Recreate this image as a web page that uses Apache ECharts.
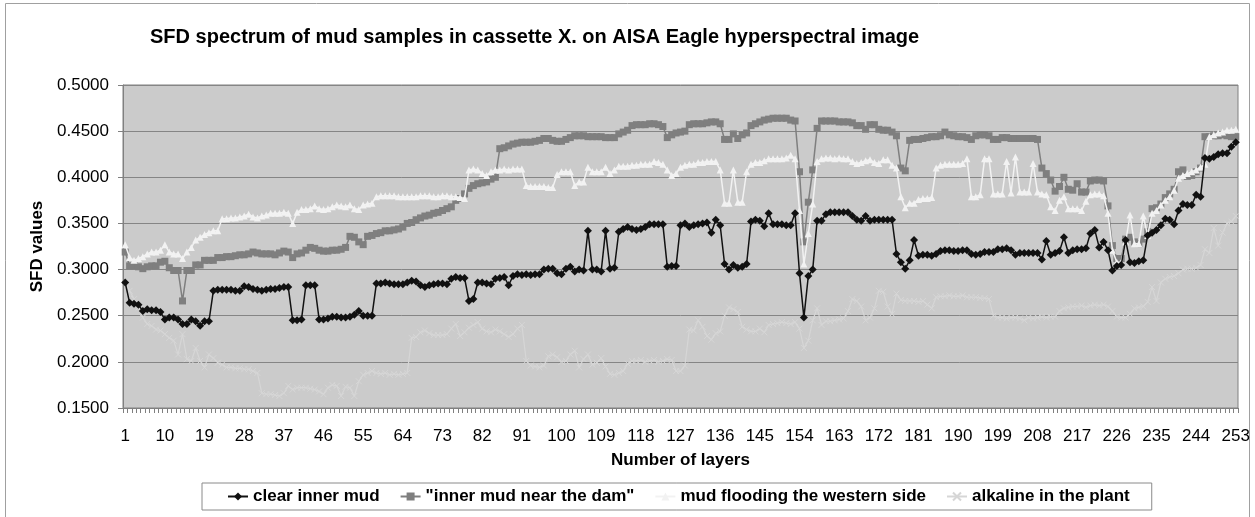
<!DOCTYPE html>
<html>
<head>
<meta charset="utf-8">
<script src="https://cdn.jsdelivr.net/npm/echarts@6/dist/echarts.min.js"></script>
<style>
html,body{margin:0;padding:0;background:#fff;}
#chart{width:1255px;height:517px;}
</style>
</head>
<body>
<div id="chart"></div>
<script>
// ---- data ----
var layerCount = 253;
var categories = [];
for (var k = 1; k <= layerCount; k++) categories.push(String(k));

var yTicks = [0.15, 0.20, 0.25, 0.30, 0.35, 0.40, 0.45, 0.50];

var seriesNames = ['clear inner mud', '"inner mud near the dam"', 'mud flooding the western side', 'alkaline in the plant'];

var clearInnerMud = [
0.286,0.264,0.263,0.262,0.255,0.257,0.256,0.256,0.254,0.246,
0.248,0.248,0.246,0.241,0.241,0.246,0.244,0.239,0.244,0.244,
0.277,0.278,0.278,0.278,0.278,0.277,0.277,0.282,0.281,0.279,
0.278,0.277,0.278,0.279,0.279,0.280,0.281,0.281,0.245,0.245,
0.246,0.283,0.283,0.283,0.246,0.246,0.247,0.249,0.249,0.248,
0.248,0.249,0.251,0.255,0.250,0.250,0.250,0.285,0.285,0.286,
0.285,0.284,0.284,0.284,0.286,0.288,0.287,0.283,0.281,0.283,
0.284,0.285,0.285,0.284,0.290,0.292,0.291,0.291,0.266,0.268,
0.286,0.286,0.285,0.284,0.290,0.291,0.292,0.283,0.293,0.295,
0.294,0.295,0.294,0.295,0.295,0.300,0.301,0.301,0.296,0.295,
0.301,0.303,0.298,0.300,0.299,0.342,0.300,0.300,0.298,0.342,
0.301,0.302,0.341,0.344,0.346,0.344,0.343,0.344,0.346,0.349,
0.349,0.349,0.349,0.303,0.304,0.304,0.348,0.350,0.346,0.348,
0.349,0.350,0.351,0.340,0.354,0.348,0.306,0.300,0.305,0.302,
0.303,0.306,0.352,0.354,0.353,0.347,0.361,0.349,0.349,0.349,
0.348,0.348,0.361,0.296,0.248,0.293,0.300,0.353,0.353,0.360,
0.362,0.362,0.362,0.362,0.362,0.358,0.354,0.353,0.358,0.353,
0.354,0.354,0.354,0.354,0.354,0.317,0.308,0.301,0.310,0.332,
0.315,0.316,0.316,0.315,0.317,0.320,0.321,0.321,0.320,0.320,
0.321,0.321,0.317,0.316,0.317,0.319,0.319,0.319,0.322,0.322,
0.323,0.321,0.316,0.318,0.318,0.318,0.318,0.318,0.311,0.331,
0.316,0.318,0.320,0.335,0.318,0.321,0.322,0.322,0.323,0.339,
0.343,0.324,0.330,0.321,0.299,0.304,0.305,0.332,0.308,0.307,
0.309,0.310,0.337,0.340,0.343,0.348,0.355,0.354,0.349,0.364,
0.371,0.370,0.370,0.381,0.379,0.421,0.420,0.422,0.425,0.426,
0.426,0.433,0.438
];

var innerMudNearDam = [
0.319,0.304,0.304,0.303,0.301,0.303,0.304,0.304,0.308,0.309,
0.302,0.299,0.299,0.266,0.299,0.299,0.305,0.305,0.310,0.310,
0.310,0.313,0.313,0.314,0.314,0.315,0.316,0.316,0.317,0.319,
0.318,0.317,0.317,0.317,0.316,0.318,0.320,0.319,0.313,0.317,
0.318,0.321,0.324,0.323,0.321,0.320,0.320,0.321,0.321,0.322,
0.324,0.336,0.335,0.330,0.327,0.336,0.337,0.339,0.340,0.342,
0.342,0.343,0.344,0.346,0.350,0.351,0.354,0.356,0.358,0.359,
0.361,0.362,0.364,0.366,0.368,0.375,0.377,0.382,0.388,0.391,
0.393,0.394,0.395,0.398,0.400,0.431,0.432,0.434,0.436,0.437,
0.438,0.438,0.438,0.439,0.440,0.442,0.442,0.440,0.439,0.439,
0.441,0.443,0.445,0.445,0.445,0.444,0.444,0.444,0.444,0.443,
0.443,0.443,0.447,0.449,0.451,0.456,0.457,0.457,0.457,0.458,
0.458,0.457,0.455,0.443,0.446,0.448,0.449,0.450,0.457,0.458,
0.458,0.458,0.459,0.460,0.460,0.458,0.441,0.441,0.447,0.442,
0.446,0.448,0.456,0.458,0.460,0.462,0.463,0.464,0.464,0.464,
0.464,0.462,0.461,0.406,0.330,0.373,0.408,0.453,0.461,0.461,
0.461,0.461,0.460,0.460,0.460,0.459,0.456,0.456,0.452,0.457,
0.457,0.452,0.451,0.451,0.449,0.445,0.410,0.407,0.440,0.441,
0.441,0.442,0.443,0.444,0.444,0.445,0.449,0.446,0.445,0.444,
0.444,0.443,0.441,0.445,0.446,0.446,0.445,0.441,0.441,0.443,
0.443,0.442,0.442,0.442,0.442,0.442,0.442,0.441,0.410,0.404,
0.397,0.385,0.390,0.400,0.387,0.386,0.393,0.384,0.384,0.396,
0.397,0.397,0.396,0.369,0.326,0.312,0.312,0.333,0.335,0.330,
0.328,0.333,0.341,0.366,0.367,0.371,0.378,0.382,0.387,0.406,
0.408,0.401,0.402,0.406,0.410,0.444,0.444,0.445,0.445,0.446,
0.445,0.444,0.444
];

var mudFloodingWest = [
0.327,0.313,0.310,0.312,0.314,0.317,0.319,0.319,0.321,0.327,
0.319,0.317,0.317,0.312,0.319,0.324,0.332,0.335,0.338,0.340,
0.342,0.342,0.355,0.355,0.356,0.356,0.357,0.358,0.360,0.357,
0.356,0.358,0.359,0.361,0.361,0.361,0.362,0.361,0.350,0.362,
0.365,0.365,0.366,0.369,0.366,0.365,0.366,0.368,0.370,0.369,
0.368,0.370,0.366,0.365,0.370,0.371,0.372,0.379,0.380,0.380,
0.380,0.380,0.379,0.379,0.379,0.379,0.379,0.380,0.380,0.380,
0.379,0.379,0.380,0.380,0.379,0.379,0.378,0.377,0.408,0.409,
0.408,0.404,0.402,0.406,0.408,0.408,0.409,0.408,0.409,0.409,
0.409,0.391,0.390,0.390,0.390,0.390,0.389,0.389,0.403,0.406,
0.406,0.406,0.391,0.395,0.395,0.411,0.406,0.406,0.406,0.411,
0.404,0.408,0.412,0.412,0.412,0.413,0.413,0.414,0.414,0.414,
0.417,0.416,0.414,0.408,0.402,0.404,0.411,0.413,0.414,0.414,
0.416,0.416,0.417,0.417,0.417,0.408,0.372,0.372,0.408,0.373,
0.373,0.406,0.414,0.416,0.416,0.418,0.420,0.420,0.420,0.420,
0.421,0.424,0.420,0.364,0.306,0.339,0.371,0.417,0.420,0.421,
0.421,0.420,0.421,0.420,0.420,0.417,0.415,0.416,0.418,0.419,
0.416,0.415,0.419,0.419,0.413,0.410,0.379,0.367,0.372,0.372,
0.376,0.377,0.377,0.378,0.410,0.413,0.414,0.414,0.414,0.414,
0.415,0.420,0.379,0.379,0.381,0.420,0.420,0.382,0.382,0.382,
0.417,0.383,0.422,0.384,0.384,0.384,0.415,0.384,0.382,0.381,
0.368,0.364,0.375,0.379,0.366,0.366,0.366,0.364,0.374,0.381,
0.382,0.382,0.380,0.361,0.321,0.308,0.308,0.330,0.359,0.328,
0.328,0.358,0.337,0.361,0.364,0.370,0.375,0.379,0.386,0.399,
0.402,0.404,0.406,0.408,0.411,0.414,0.444,0.446,0.448,0.449,
0.451,0.451,0.452
];

var alkalineInPlant = [
0.286,0.277,0.268,0.259,0.248,0.241,0.239,0.235,0.234,0.230,
0.226,0.223,0.208,0.230,0.203,0.201,0.215,0.201,0.194,0.208,
0.204,0.199,0.197,0.194,0.194,0.193,0.193,0.192,0.192,0.190,
0.188,0.166,0.165,0.165,0.164,0.163,0.166,0.174,0.170,0.172,
0.172,0.172,0.171,0.170,0.168,0.165,0.172,0.175,0.174,0.163,
0.173,0.172,0.163,0.179,0.186,0.188,0.190,0.188,0.187,0.188,
0.186,0.187,0.186,0.187,0.188,0.226,0.227,0.232,0.234,0.231,
0.229,0.229,0.229,0.230,0.236,0.241,0.228,0.232,0.237,0.240,
0.243,0.236,0.233,0.232,0.235,0.233,0.230,0.227,0.230,0.236,
0.240,0.201,0.196,0.195,0.194,0.196,0.206,0.208,0.205,0.200,
0.201,0.208,0.212,0.194,0.203,0.208,0.197,0.199,0.204,0.195,
0.187,0.186,0.188,0.190,0.198,0.201,0.201,0.202,0.200,0.201,
0.202,0.200,0.201,0.203,0.202,0.190,0.190,0.196,0.235,0.234,
0.245,0.238,0.228,0.224,0.231,0.233,0.250,0.259,0.257,0.254,
0.238,0.235,0.233,0.233,0.236,0.232,0.240,0.241,0.242,0.243,
0.242,0.241,0.243,0.236,0.215,0.223,0.245,0.258,0.240,0.244,
0.244,0.245,0.246,0.247,0.255,0.268,0.266,0.260,0.245,0.248,
0.258,0.277,0.276,0.260,0.252,0.274,0.267,0.266,0.266,0.266,
0.265,0.266,0.262,0.258,0.270,0.271,0.271,0.272,0.271,0.271,
0.272,0.270,0.270,0.270,0.269,0.269,0.268,0.250,0.248,0.248,
0.247,0.248,0.248,0.247,0.245,0.248,0.247,0.248,0.249,0.248,
0.249,0.249,0.255,0.258,0.259,0.260,0.260,0.261,0.259,0.261,
0.262,0.261,0.262,0.260,0.255,0.249,0.248,0.248,0.252,0.258,
0.259,0.260,0.265,0.281,0.266,0.286,0.290,0.292,0.293,0.296,
0.300,0.301,0.301,0.302,0.305,0.322,0.318,0.345,0.326,0.340,
0.350,0.352,0.358
];

// ---- chart ----
var FONT = '"Liberation Sans", Arial, Helvetica, sans-serif';
var chart = echarts.init(document.getElementById('chart'), null, {renderer: 'canvas'});

var option = {
  animation: false,
  backgroundColor: '#ffffff',
  graphic: [{
    type: 'rect', left: 5, top: 3, z: -10,
    shape: {width: 1244, height: 530},
    style: {fill: '#ffffff', stroke: '#a0a0a0', lineWidth: 1}
  }],
  title: {
    text: 'SFD spectrum of mud samples in cassette X. on AISA Eagle hyperspectral image',
    left: 145, top: 22,
    textStyle: {fontFamily: FONT, fontSize: 20, fontWeight: 'bold', color: '#000'}
  },
  legend: {
    left: 202, top: 483,
    itemWidth: 20, itemHeight: 10, itemGap: 20,
    padding: [5, 22, 5, 25],
    borderColor: '#8a8a8a', borderWidth: 1, backgroundColor: '#ffffff',
    textStyle: {fontFamily: FONT, fontSize: 17, fontWeight: 'bold', color: '#000'},
    data: seriesNames
  },
  grid: {
    left: 123, right: 17, top: 85, bottom: 109,
    show: true, backgroundColor: '#cbcbcb', borderColor: '#808080', borderWidth: 1
  },
  xAxis: {
    type: 'category', data: categories, boundaryGap: true,
    name: 'Number of layers', nameLocation: 'middle', nameGap: 44,
    nameTextStyle: {fontFamily: FONT, fontSize: 17, fontWeight: 'bold', color: '#000'},
    axisLine: {lineStyle: {color: '#808080', width: 1}},
    axisTick: {show: true, interval: 0, length: 5, lineStyle: {color: '#808080'}},
    axisLabel: {interval: 8, margin: 20, fontFamily: FONT, fontSize: 17, color: '#000'},
    splitLine: {show: false}
  },
  yAxis: {
    type: 'value', min: yTicks[0], max: yTicks[yTicks.length - 1], interval: 0.05,
    name: 'SFD values', nameLocation: 'middle', nameGap: 76, nameRotate: 90,
    nameTextStyle: {fontFamily: FONT, fontSize: 17, fontWeight: 'bold', color: '#000'},
    axisLine: {show: true, lineStyle: {color: '#808080', width: 1}},
    axisTick: {show: true, length: 5, lineStyle: {color: '#808080'}},
    axisLabel: {margin: 14, fontFamily: FONT, fontSize: 17, color: '#000',
      formatter: function (v) { return v.toFixed(4); }},
    splitLine: {show: true, lineStyle: {color: '#858585', width: 1}}
  },
  series: [
    {
      name: seriesNames[0], type: 'line', data: clearInnerMud,
      symbol: 'diamond', symbolSize: 8, showAllSymbol: true,
      lineStyle: {color: '#111111', width: 1.5},
      itemStyle: {color: '#111111'}, z: 5
    },
    {
      name: seriesNames[1], type: 'line', data: innerMudNearDam,
      symbol: 'rect', symbolSize: 7, showAllSymbol: true,
      lineStyle: {color: '#7f7f7f', width: 1.5},
      itemStyle: {color: '#7f7f7f'}, z: 3
    },
    {
      name: seriesNames[2], type: 'line', data: mudFloodingWest,
      symbol: 'triangle', symbolSize: 7, showAllSymbol: true,
      lineStyle: {color: '#f2f2f2', width: 1.5},
      itemStyle: {color: '#f2f2f2'}, z: 4
    },
    {
      name: seriesNames[3], type: 'line', data: alkalineInPlant,
      symbol: 'path://M0,0L10,10M10,0L0,10', symbolSize: 6, showAllSymbol: true,
      lineStyle: {color: '#d6d6d6', width: 1.2},
      itemStyle: {color: 'rgba(0,0,0,0)', borderColor: '#d6d6d6', borderWidth: 1}, z: 2
    }
  ]
};
chart.setOption(option);
</script>
</body>
</html>
